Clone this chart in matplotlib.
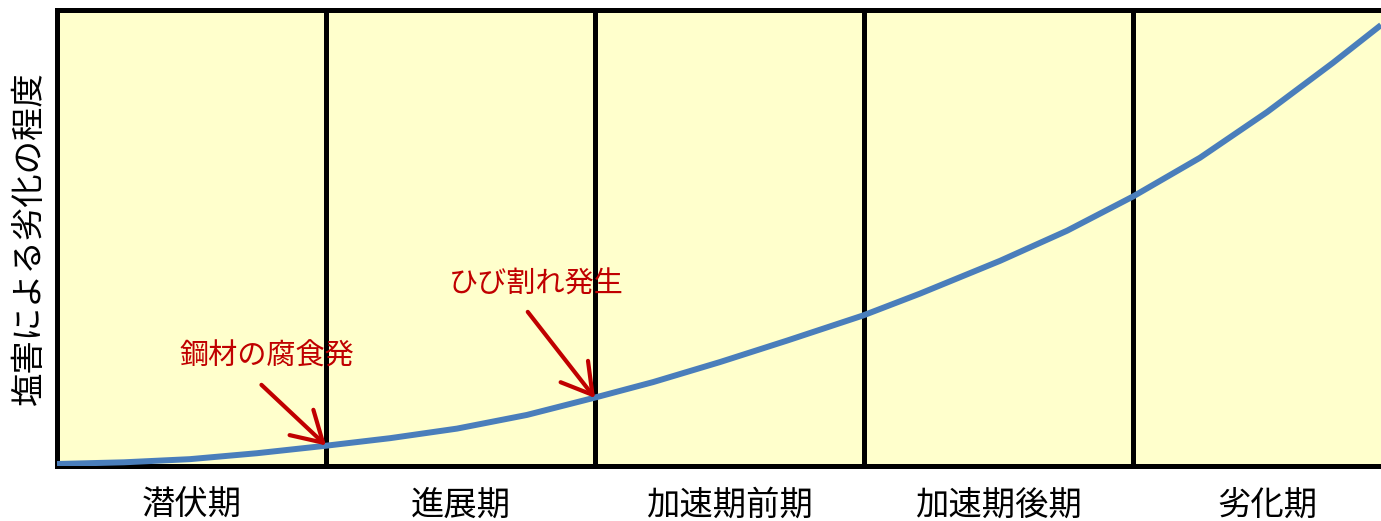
import matplotlib
matplotlib.use("Agg")
import matplotlib.pyplot as plt

plt.rcParams['font.family'] = ['Noto Sans CJK JP', 'DejaVu Sans']

# stage names along the x axis
stages = ['潜伏期', '進展期', '加速期前期', '加速期後期', '劣化期']

# deterioration curve (x in stage units, y in % of axis)
curve_x = [0.0, 0.249, 0.494, 0.743, 0.993, 1.238, 1.487, 1.747, 1.993, 2.216,
           2.465, 2.714, 2.996, 3.208, 3.506, 3.755, 4.0, 4.249, 4.498, 4.743, 4.922]
curve_y = [0.44, 0.81, 1.5, 2.8, 4.4, 6.1, 8.2, 11.2, 14.9, 18.4,
           22.8, 27.5, 33.0, 37.8, 45.0, 51.6, 59.1, 67.6, 77.6, 88.4, 96.7]

# annotations: label, text position, arrow tail, arrow head
notes = [
    ('鋼材の腐食発', (0.78, 23.9), (0.76, 17.8), (1.0, 4.5)),
    ('ひび割れ発生', (1.78, 39.7), (1.75, 33.8), (2.0, 14.9)),
]

ylabel = '塩害による劣化の程度'

fig = plt.figure(figsize=(13.81, 5.21), dpi=100)
ax = fig.add_axes([57 / 1381, 55 / 521, 5 * 269 / 1381, 456 / 521])
ax.set_facecolor('#ffffcc')

ax.set_xlim(0, 5)
ax.set_ylim(0, 100)

for b in range(1, len(stages)):
    ax.axvline(b, color='black', lw=3.6, zorder=2)

ax.plot(curve_x, curve_y, color='#4a7ebb', lw=4.3, solid_capstyle='butt',
        solid_joinstyle='round', zorder=3)

for label, txt, tail, head in notes:
    ax.text(txt[0], txt[1], label, color='#c00000', fontsize=21,
            ha='center', va='center', zorder=4)
    ax.annotate('', xy=head, xytext=tail,
                arrowprops=dict(arrowstyle='->,head_length=0.85,head_width=0.5',
                                mutation_scale=25, color='#c00000', lw=3,
                                shrinkA=0, shrinkB=0),
                zorder=4)

for side in ['left', 'top', 'bottom', 'right']:
    ax.spines[side].set_linewidth(3.6)
    ax.spines[side].set_color('black')

ax.set_xticks([i + 0.5 for i in range(len(stages))])
ax.set_xticklabels(stages, fontsize=24)
ax.tick_params(axis='x', length=0, pad=16)
ax.set_yticks([])
ax.set_ylabel(ylabel, fontsize=24, labelpad=7)

fig.savefig('out.png', dpi=100)
